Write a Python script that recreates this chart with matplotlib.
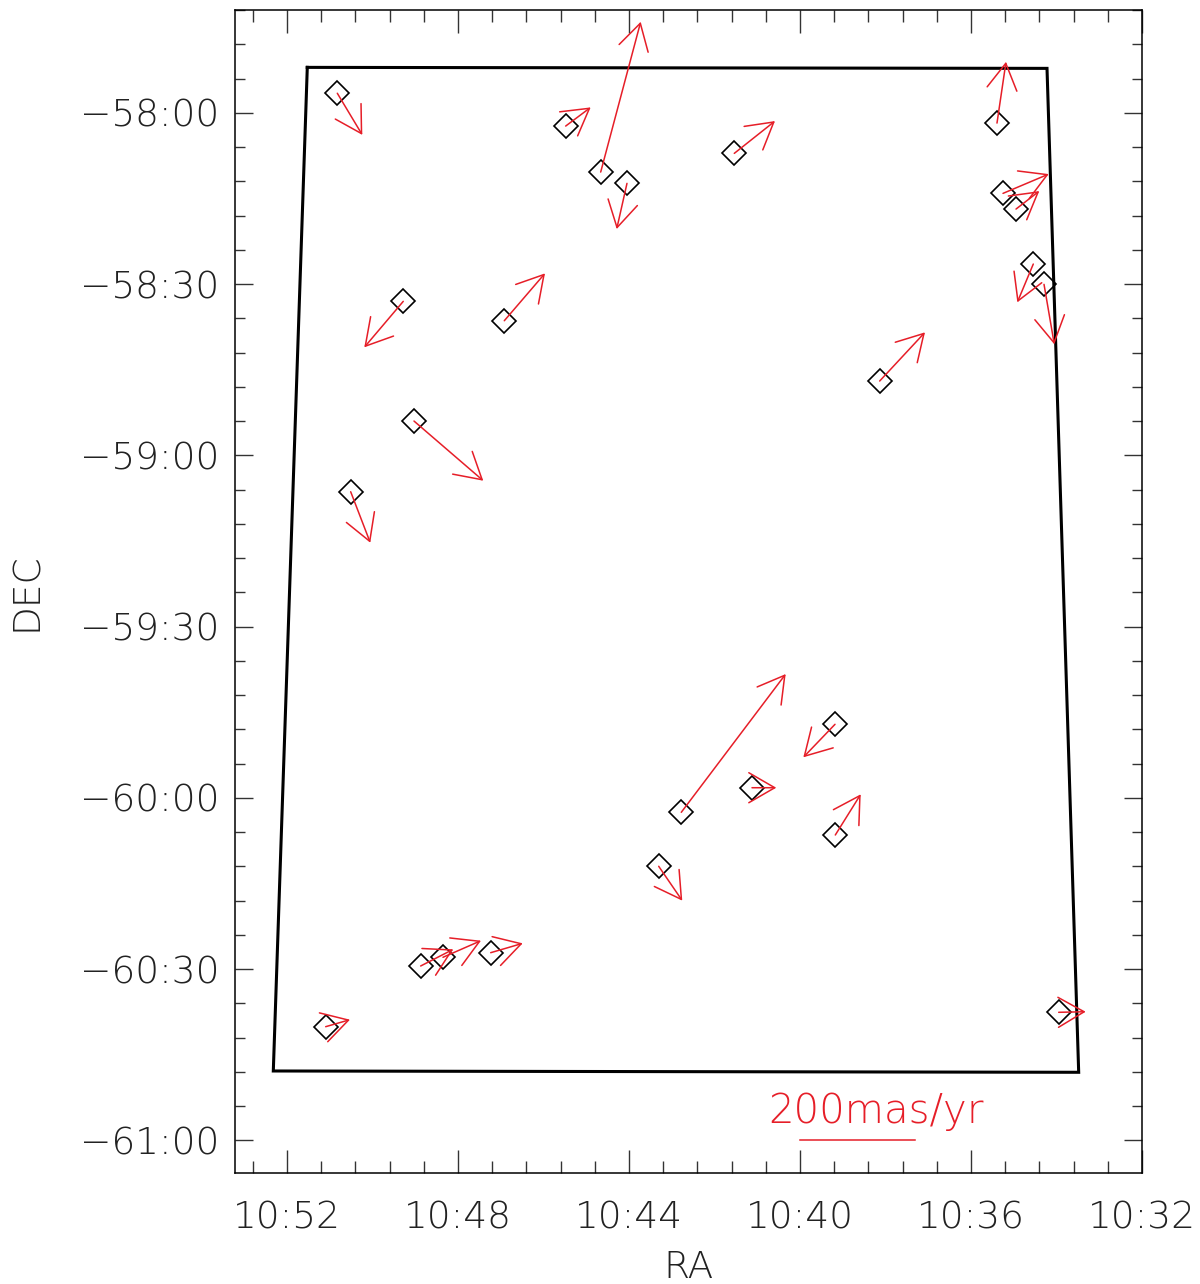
import numpy as np
import matplotlib
matplotlib.use("Agg")
import matplotlib.pyplot as plt
from matplotlib.patches import FancyArrowPatch
from matplotlib.ticker import MultipleLocator, FuncFormatter

plt.rcParams['font.family'] = ['DejaVu Sans']
FW = 200

# Star positions: RA in minutes past 10h, Dec in degrees
ra_min = [50.823, 45.481, 44.662, 44.047, 41.537, 35.392, 35.251, 34.947, 34.543, 34.292,
          49.280, 46.917, 49.029, 50.510, 38.136, 42.777, 39.181, 41.123, 39.174, 43.305,
          51.095, 48.873, 48.351, 47.235, 33.949]
dec_deg = [-57.943, -58.0388, -58.1731, -58.2061, -58.1185, -58.0301, -58.2353, -58.2811, -58.4416, -58.5009,
           -58.5505, -58.6071, -58.8999, -59.1063, -58.7831, -60.0421, -59.7852, -59.9703, -60.1083, -60.1997,
           -60.6679, -60.4907, -60.4653, -60.4519, -60.6259]
# Proper motions (mas/yr), pmRA positive towards east
pm_ra = [-43.5, -43.5, -69.6, 17.9, -70.8, -15.7, -79.5, -40.5, 27.8, -17.9,
         67.8, -70.8, -120.5, -34.1, -78.8, -181.6, 55.1, -42.3, -44.2, -41.0,
         -42.3, -56.7, -66.1, -55.7, -47.0]
pm_dec = [-72.5, 32.5, 261.4, -79.5, 56.2, 106.6, 33.6, 31.3, -66.6, -104.3,
          -80.0, 82.4, -103.8, -88.7, 84.7, 240.5, -57.4, 0.0, 70.8, -59.8,
          12.2, 29.0, 28.9, 16.3, 1.0]

# Survey footprint corners
foot_ra = [51.525, 34.222, 33.481, 52.320, 51.525]
foot_dec = [-57.8675, -57.8704, -60.8010, -60.7972, -57.8675]

scale_pm = 200.0          # mas/yr for the scale bar
scale_ra_len = 2.690      # RA minutes corresponding to scale_pm
scale_dec_len = 0.33567   # degrees corresponding to scale_pm
scale_label = "200mas/yr"

RED = '#e61e28'
TXT = '#222222'

fig = plt.figure(figsize=(12, 12.84), dpi=100)
ax = fig.add_axes([235/1200, 1 - 1173/1284, (1142-235)/1200, (1173-10)/1284])

ax.plot(foot_ra, foot_dec, color='black', lw=2.2, solid_joinstyle='miter', zorder=2)

ax.plot(ra_min, dec_deg, linestyle='none', marker='D', markersize=12.5,
        markerfacecolor='none', markeredgecolor='black', markeredgewidth=1.2, zorder=3)

kx = scale_ra_len / scale_pm
ky = scale_dec_len / scale_pm
for r, d, pr, pd in zip(ra_min, dec_deg, pm_ra, pm_dec):
    arr = FancyArrowPatch((r, d), (r + pr * kx, d + pd * ky),
                          arrowstyle='->,head_length=18.7,head_width=10.8',
                          mutation_scale=1, shrinkA=0, shrinkB=0,
                          color=RED, lw=1.1, zorder=4)
    ax.add_patch(arr)

# scale bar
bar_ra0, bar_dec0 = 40.0, -61.0
ax.plot([bar_ra0, bar_ra0 - scale_ra_len], [bar_dec0, bar_dec0], color=RED, lw=1.1)
ax.text(40.75, -60.949, scale_label, color=RED, fontsize=29, fontweight=FW,
        ha='left', va='baseline')

ax.set_xlim(53.216, 32.0)
ax.set_ylim(-61.095, -57.70)

ax.xaxis.set_major_locator(MultipleLocator(4))
ax.xaxis.set_minor_locator(MultipleLocator(0.8))
ax.yaxis.set_major_locator(MultipleLocator(0.5))
ax.yaxis.set_minor_locator(MultipleLocator(0.1))

def fmt_ra(v, pos):
    m = int(round(v))
    return f"10:{m:02d}"

def fmt_dec(v, pos):
    deg = int(np.floor(abs(v) + 1e-6))
    mins = int(round((abs(v) - deg) * 60))
    sign = '\u2212' if v < 0 else ''
    return f"{sign}{deg}:{mins:02d}"

ax.xaxis.set_major_formatter(FuncFormatter(fmt_ra))
ax.yaxis.set_major_formatter(FuncFormatter(fmt_dec))

ax.tick_params(axis='x', which='major', direction='in', length=16.5, width=1.0,
               top=True, bottom=True, labelsize=27, pad=20, colors='#333333', labelcolor=TXT)
ax.tick_params(axis='x', which='minor', direction='in', length=8.5, width=1.0, top=True, bottom=True, colors='#333333')
ax.tick_params(axis='y', which='major', direction='in', length=13, width=1.0,
               left=True, right=True, labelsize=27, pad=11, colors='#333333', labelcolor=TXT)
ax.tick_params(axis='y', which='minor', direction='in', length=7, width=1.0, left=True, right=True, colors='#333333')
for lab in ax.get_xticklabels() + ax.get_yticklabels():
    lab.set_fontweight(FW)

for s in ax.spines.values():
    s.set_linewidth(1.1)

ax.set_xlabel('RA', fontsize=27, fontweight=FW, labelpad=10, color=TXT)
ax.set_ylabel('DEC', fontsize=27, fontweight=FW, labelpad=26, color=TXT)

fig.savefig('out.png', dpi=100)
